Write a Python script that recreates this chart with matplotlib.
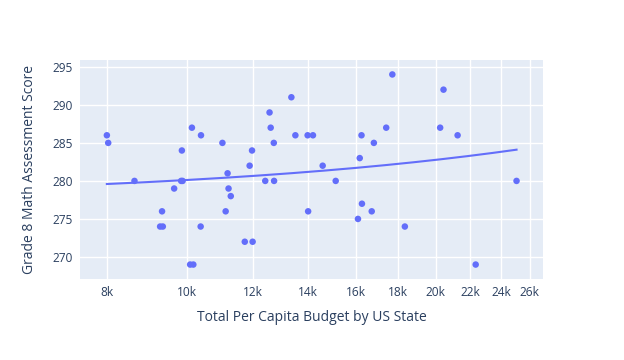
import numpy as np
import matplotlib.pyplot as plt
from matplotlib.ticker import FixedLocator, NullLocator

# per capita budget (USD) and grade 8 math score
budget = [7990, 8020, 8630, 9850, 9830, 9870, 9640, 9320, 9270, 9340,
          10130, 10390, 10080, 10170, 10380, 11030, 11190, 11220, 11290, 11130,
          11740, 12000, 11900, 11980, 12430, 12740, 12580, 12620, 12730, 13370,
          13520, 13990, 14200, 14010, 14590, 15130, 16100, 16180, 16260, 16280,
          16730, 16830, 17420, 17720, 18350, 20250, 20440, 21260, 22360, 25060]
score = [286, 285, 280, 284, 280, 280, 279, 276, 274, 274,
         287, 286, 269, 269, 274, 285, 281, 279, 278, 276,
         272, 272, 282, 284, 280, 280, 289, 287, 285, 291,
         286, 286, 286, 276, 282, 280, 275, 283, 286, 277,
         276, 285, 287, 294, 274, 287, 292, 286, 269, 280]

x_ticks = [8000, 10000, 12000, 14000, 16000, 18000, 20000, 22000, 24000, 26000]
x_tick_labels = ['8k', '10k', '12k', '14k', '16k', '18k', '20k', '22k', '24k', '26k']
y_ticks = [270, 275, 280, 285, 290, 295]

plt.rcParams['font.family'] = ['Open Sans', 'DejaVu Sans']
text_color = '#2a3f5f'
dot_color = '#636efa'

fig = plt.figure(figsize=(6.24, 3.6), dpi=100)
ax = fig.add_axes([80 / 624, 1 - 279 / 360, 463 / 624, 219 / 360])
ax.set_facecolor('#e5ecf6')

# OLS trendline in raw x
b = np.array(budget, dtype=float)
s = np.array(score, dtype=float)
slope, intercept = np.polyfit(b, s, 1)
xs = np.linspace(b.min(), b.max(), 200)
ax.plot(xs, slope * xs + intercept, color=dot_color, lw=1.5, zorder=3)

ax.scatter(budget, score, s=22, color=dot_color, edgecolors='none', zorder=4)

ax.set_xscale('log')
ax.set_xlim(7413, 26980)
ax.set_ylim(267.1, 295.9)
ax.xaxis.set_major_locator(FixedLocator(x_ticks))
ax.xaxis.set_minor_locator(NullLocator())
ax.set_xticklabels(x_tick_labels)
ax.set_yticks(y_ticks)

ax.grid(True, color='white', lw=1)
ax.set_axisbelow(True)
for sp in ax.spines.values():
    sp.set_visible(False)
ax.tick_params(length=0, labelsize=8.6, colors=text_color, pad=5)

ax.set_xlabel('Total Per Capita Budget by US State', fontsize=10,
              color=text_color, labelpad=8)
ax.set_ylabel('Grade 8 Math Assessment Score', fontsize=10,
              color=text_color, labelpad=11)

fig.savefig('out.png', dpi=100)
